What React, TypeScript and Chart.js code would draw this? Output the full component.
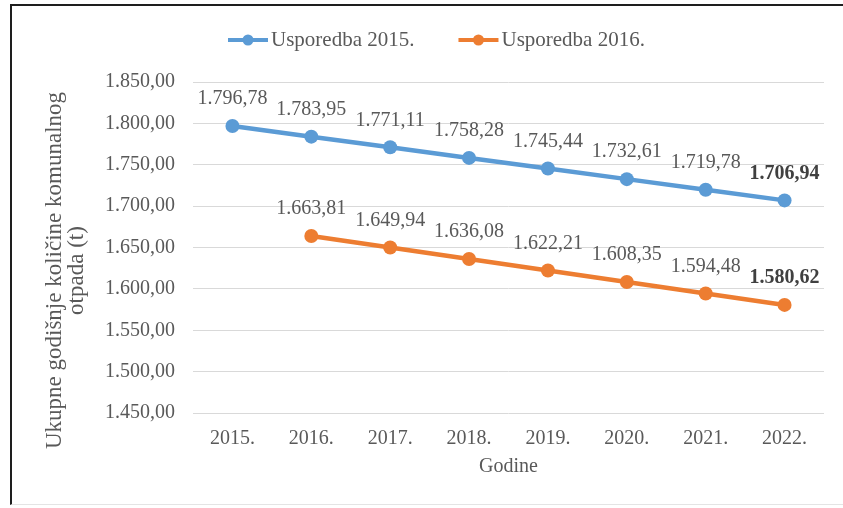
import React, { useEffect, useRef } from 'react';
import { Chart, registerables } from 'chart.js';

Chart.register(...registerables);

const categories = ['2015.', '2016.', '2017.', '2018.', '2019.', '2020.', '2021.', '2022.'];
const series2015: (number | null)[] = [1796.78, 1783.95, 1771.11, 1758.28, 1745.44, 1732.61, 1719.78, 1706.94];
const series2016: (number | null)[] = [null, 1663.81, 1649.94, 1636.08, 1622.21, 1608.35, 1594.48, 1580.62];
const seriesNames = ['Usporedba 2015.', 'Usporedba 2016.'];
const seriesColors = ['#5B9BD5', '#ED7D31'];
const yMin = 1450;
const yMax = 1850;
const yStep = 50;
const xTitle = 'Godine';
const yTitle = ['Ukupne godišnje količine komunalnog', 'otpada (t)'];

const FONT = '"Liberation Serif", "Times New Roman", serif';
const TEXT = '#595959';

function fmt(v: number): string {
  const [i, d] = v.toFixed(2).split('.');
  return i.replace(/\B(?=(\d{3})+(?!\d))/g, '.') + ',' + d;
}

const dataLabelPlugin = {
  id: 'dataLabels',
  afterDatasetsDraw(chart: any) {
    const ctx = chart.ctx;
    ctx.save();
    ctx.textAlign = 'center';
    ctx.textBaseline = 'middle';
    chart.data.datasets.forEach((ds: any, i: number) => {
      const meta = chart.getDatasetMeta(i);
      const last = ds.data.length - 1;
      meta.data.forEach((pt: any, j: number) => {
        const v = ds.data[j];
        if (v == null) return;
        const bold = j === last;
        ctx.font = `${bold ? 'bold ' : ''}20px ${FONT}`;
        ctx.fillStyle = bold ? '#404040' : TEXT;
        ctx.fillText(fmt(v), pt.x, pt.y - 27);
      });
    });
    ctx.restore();
  },
};

const yTitlePlugin = {
  id: 'yTitle',
  afterDraw(chart: any) {
    const ctx = chart.ctx;
    const area = chart.chartArea;
    const cy = (area.top + area.bottom) / 2 + 23;
    ctx.save();
    ctx.font = `23px ${FONT}`;
    ctx.fillStyle = TEXT;
    ctx.textAlign = 'center';
    ctx.textBaseline = 'middle';
    yTitle.forEach((line, k) => {
      ctx.save();
      ctx.translate(55 + k * 22, cy);
      ctx.rotate(-Math.PI / 2);
      ctx.fillText(line, 0, 0);
      ctx.restore();
    });
    ctx.restore();
  },
};

const legendPlugin = {
  id: 'lineLegend',
  afterDraw(chart: any) {
    const ctx = chart.ctx;
    ctx.save();
    ctx.font = `21px ${FONT}`;
    ctx.textBaseline = 'middle';
    ctx.textAlign = 'left';
    let x = 228;
    const y = 40;
    chart.data.datasets.forEach((ds: any) => {
      ctx.strokeStyle = ds.borderColor;
      ctx.lineWidth = 4;
      ctx.beginPath();
      ctx.moveTo(x, y);
      ctx.lineTo(x + 40, y);
      ctx.stroke();
      ctx.fillStyle = ds.backgroundColor;
      ctx.beginPath();
      ctx.arc(x + 20, y, 5.5, 0, Math.PI * 2);
      ctx.fill();
      ctx.fillStyle = TEXT;
      ctx.fillText(ds.label, x + 43, y);
      x += 43 + ctx.measureText(ds.label).width + 44;
    });
    ctx.restore();
  },
};

export default function App() {
  const ref = useRef<HTMLCanvasElement | null>(null);

  useEffect(() => {
    document.body.style.margin = '0';
    document.body.style.overflow = 'hidden';
    const canvas = ref.current;
    if (!canvas) return;
    const chart = new Chart(canvas, {
      type: 'line',
      data: {
        labels: categories,
        datasets: [series2015, series2016].map((d, i) => ({
          label: seriesNames[i],
          data: d,
          borderColor: seriesColors[i],
          backgroundColor: seriesColors[i],
          borderWidth: 4.5,
          pointRadius: 7,
          pointBorderWidth: 0,
          pointBackgroundColor: seriesColors[i],
          tension: 0,
          spanGaps: false,
        })),
      },
      options: {
        responsive: false,
        animation: false,
        devicePixelRatio: 1,
        layout: { padding: { left: 0, right: 19, top: 82, bottom: 0 } },
        plugins: {
          legend: { display: false },
          tooltip: { enabled: false },
        },
        scales: {
          x: {
            offset: true,
            grid: { display: false },
            border: { display: false },
            ticks: { color: TEXT, font: { family: FONT, size: 20 }, padding: 6 },
            title: {
              display: true,
              text: xTitle,
              color: TEXT,
              font: { family: FONT, size: 20, lineHeight: 1.2 },
              padding: { top: 0, bottom: 29 },
            },
            afterFit: (s: any) => {
              s.height = 95;
            },
          },
          y: {
            min: yMin,
            max: yMax,
            grid: { color: '#d9d9d9', lineWidth: 1, drawTicks: false },
            border: { display: false },
            ticks: {
              stepSize: yStep,
              color: TEXT,
              font: { family: FONT, size: 20 },
              padding: 18,
              callback: (v: any) => fmt(Number(v)),
            },
            title: { display: false },
            afterFit: (s: any) => {
              s.width = 193;
            },
          },
        },
      },
      plugins: [dataLabelPlugin, yTitlePlugin, legendPlugin],
    });
    return () => chart.destroy();
  }, []);

  return (
    <div style={{ position: 'relative', width: 843, height: 508, overflow: 'hidden', background: '#fff' }}>
      <canvas ref={ref} width={843} height={508} style={{ display: 'block', width: 843, height: 508 }} />
      <div
        style={{
          position: 'absolute',
          left: 10,
          top: 4,
          width: 833,
          height: 501,
          borderLeft: '2px solid #1e1e1e',
          borderTop: '2px solid #1e1e1e',
          borderBottom: '1px solid #e4e4e4',
          boxSizing: 'border-box',
          pointerEvents: 'none',
        }}
      />
    </div>
  );
}
